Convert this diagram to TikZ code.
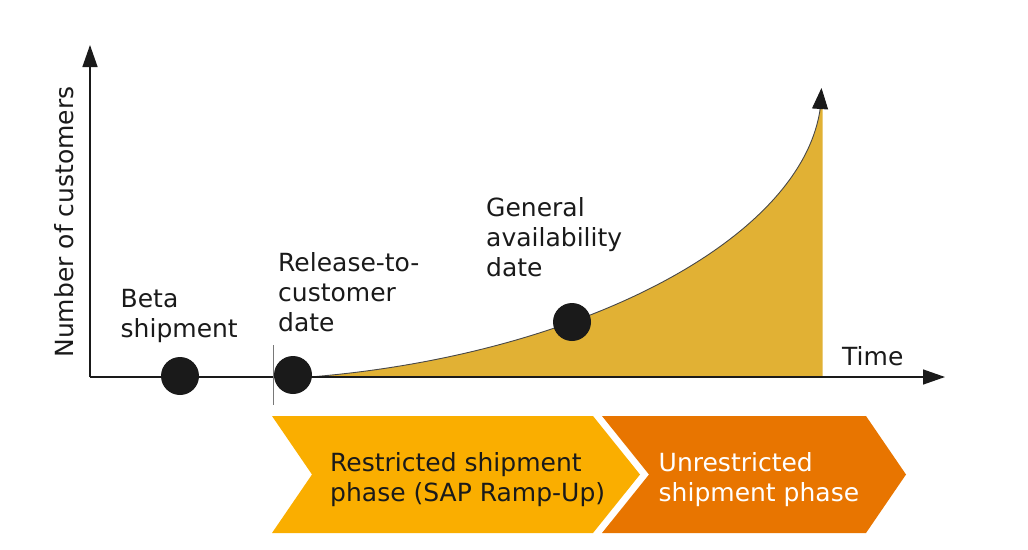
\documentclass[tikz,border=0pt]{standalone}
\usepackage{fontspec}
\setmainfont{DejaVu Sans}
\usetikzlibrary{arrows.meta}
\definecolor{inkc}{RGB}{26,26,26}
\definecolor{areac}{RGB}{225,177,52}
\definecolor{restrc}{RGB}{250,174,0}
\definecolor{unrestrc}{RGB}{232,117,0}
\definecolor{tickc}{RGB}{120,120,120}
\newcommand\lns[1]{\begin{tabular}[t]{@{}l@{}}#1\end{tabular}}
\tikzset{
  lbl/.style={inner sep=0pt, anchor=base west, text=inkc, font=\fontsize{25}{30}\selectfont},
  milestone/.style={circle, fill=inkc, minimum size=38pt, inner sep=0pt},
  axisline/.style={draw=inkc, line width=1.4pt, -{Triangle[length=22pt,width=15pt]}},
  chevron/.style={draw=none},
}
\begin{document}
\begin{tikzpicture}[x=1pt,y=-1pt]
\useasboundingbox (0,0) rectangle (1028,549);
% area under curve
\coordinate (c0) at (310,377);
\coordinate (c1) at (820,110);
\coordinate (cb) at (822.5,377);
\fill[areac] (c0) .. controls (580,355) and (800,240) .. (c1) -- (822.5,108) -- (cb) -- cycle;
\draw[inkc!80, line width=0.9pt] (c0) .. controls (580,355) and (800,240) .. (c1);
\coordinate (ctip) at (821.5,88);
\draw[draw=inkc, line width=0.9pt, -{Triangle[length=21pt,width=16pt]}] (c1) -- (ctip);
% axes
\coordinate (o) at (90,377);
\coordinate (ytip) at (90,45);
\coordinate (xtip) at (945,377);
\draw[axisline] (o) -- (ytip);
\draw[axisline] (o) -- (xtip);
% tick
\coordinate (tk1) at (273.5,345);
\coordinate (tk2) at (273.5,405);
\draw[tickc, line width=0.9pt] (tk1) -- (tk2);
% milestones
\node[milestone] (beta) at (180,376) {};
\node[milestone] (rtc) at (293,375) {};
\node[milestone] (ga) at (572,322) {};
% labels
\node[lbl, rotate=90, anchor=base] (ylab) at (73,222) {Number of customers};
\node[lbl] (tlab) at (842,365) {Time};
\node[lbl] (betalab) at (120.5,307) {\lns{Beta\\shipment}};
\node[lbl] (rtclab) at (278,271) {\lns{Release-to-\\customer\\date}};
\node[lbl] (galab) at (486,216) {\lns{General\\availability\\date}};
% chevrons
\fill[restrc] (272,416) -- (593,416) -- (640,474.5) -- (593,533) -- (272,533) -- (312,474.5) -- cycle;
\fill[unrestrc] (602,416) -- (866,416) -- (906,474.5) -- (866,533) -- (602,533) -- (649,474.5) -- cycle;
\node[lbl] (rsp) at (330,471) {\lns{Restricted shipment\\phase (SAP Ramp-Up)}};
\node[lbl, text=white] (usp) at (658.5,471) {\lns{Unrestricted\\shipment phase}};
\end{tikzpicture}
\end{document}
